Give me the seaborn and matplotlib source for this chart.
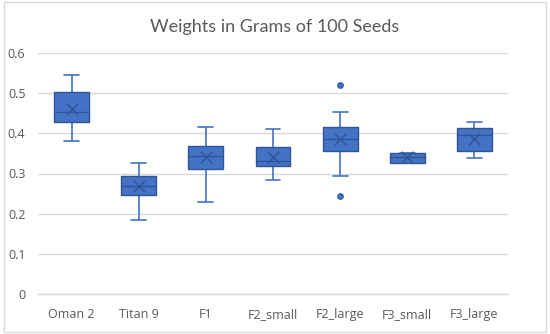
import numpy as np
import pandas as pd
import matplotlib
matplotlib.use("Agg")
import matplotlib.pyplot as plt
import seaborn as sns
from matplotlib.patches import Rectangle

categories = ["Oman 2", "Titan 9", "F1", "F2_small", "F2_large", "F3_small", "F3_large"]
whisker_low = [0.382, 0.185, 0.229, 0.283, 0.293, 0.327, 0.339]
q1 = [0.428, 0.246, 0.310, 0.319, 0.357, 0.327, 0.357]
median = [0.453, 0.270, 0.343, 0.331, 0.387, 0.341, 0.396]
q3 = [0.502, 0.294, 0.368, 0.367, 0.417, 0.351, 0.413]
whisker_high = [0.544, 0.327, 0.416, 0.411, 0.453, 0.351, 0.427]
means = [0.461, 0.269, 0.341, 0.341, 0.386, 0.341, 0.387]
outlier_cats = ["F2_large", "F2_large"]
outlier_vals = [0.520, 0.243]
yticks = [0, 0.1, 0.2, 0.3, 0.4, 0.5, 0.6]
title = "Weights in Grams of 100 Seeds"

sns.set_theme(style="white")
plt.rcParams["font.family"] = ["Open Sans", "DejaVu Sans"]

rows = []
for i, c in enumerate(categories):
    for v in (whisker_low[i], q1[i], median[i], q3[i], whisker_high[i]):
        rows.append({"cat": c, "val": v})
df = pd.DataFrame(rows)

fill = "#4472C4"
edge = "#2F5597"
text_c = "#595959"

fig = plt.figure(figsize=(5.5, 3.34), dpi=100)
ax = fig.add_axes([38 / 550, 1 - 294 / 334, 470 / 550, 241 / 334])

sns.boxplot(data=df, x="cat", y="val", order=categories, whis=np.inf,
            width=0.52, color=fill, linecolor=edge, linewidth=1.0,
            showfliers=False, ax=ax, capwidths=0.22,
            boxprops=dict(facecolor=fill, edgecolor=edge, zorder=3),
            whiskerprops=dict(color=fill, linewidth=1.2, zorder=2),
            capprops=dict(color=fill, linewidth=1.2, zorder=2),
            medianprops=dict(color=edge, linewidth=1.0, zorder=4))

sns.scatterplot(x=categories, y=means, marker="x", s=70, color=edge,
                linewidth=1.0, ax=ax, zorder=5, legend=False)
sns.scatterplot(x=outlier_cats, y=outlier_vals, marker="o", s=16,
                color=fill, edgecolor=edge, linewidth=0.8, ax=ax, zorder=5,
                legend=False)

ax.set_xlim(-0.5, len(categories) - 0.5)
ax.set_ylim(0, 0.6)
ax.set_yticks(yticks)
ax.set_yticklabels(["0" if t == 0 else f"{t:.1f}" for t in yticks])
ax.yaxis.grid(True, color="#D9D9D9", linewidth=1.0)
ax.set_axisbelow(True)
for s in ["top", "right", "left"]:
    ax.spines[s].set_visible(False)
ax.spines["bottom"].set_color("#D9D9D9")
ax.spines["bottom"].set_linewidth(1.0)
ax.tick_params(axis="both", length=0, labelsize=9, labelcolor=text_c)
ax.tick_params(axis="y", pad=9)
ax.tick_params(axis="x", pad=10)
ax.set_xlabel("")
ax.set_ylabel("")

fig.text(0.5, 1 - 27 / 334, title, ha="center", va="center",
         fontsize=13, color=text_c, family=["Lato", "DejaVu Sans"])

fig.patches.append(Rectangle((4 / 550, 2 / 334), 542 / 550, 330 / 334,
                             transform=fig.transFigure, fill=False,
                             edgecolor="#D9D9D9", linewidth=1.0))

fig.savefig("out.png", dpi=100)
